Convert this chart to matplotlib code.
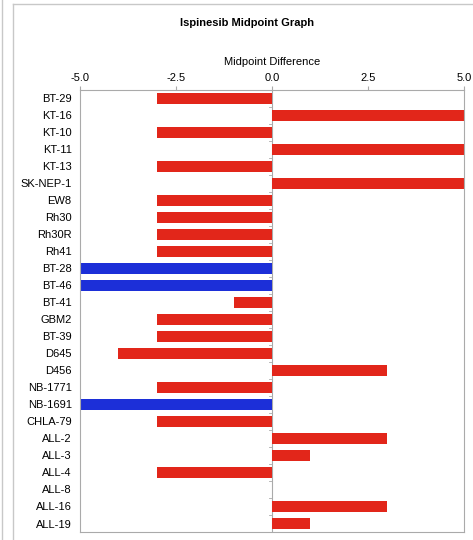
import numpy as np
import matplotlib
matplotlib.use('Agg')
import matplotlib.pyplot as plt
from matplotlib.lines import Line2D

plt.rcParams['font.family'] = ['Liberation Sans', 'DejaVu Sans']

# --- Daten ---
cell_lines = ['BT-29', 'KT-16', 'KT-10', 'KT-11', 'KT-13', 'SK-NEP-1', 'EW8', 'Rh30',
              'Rh30R', 'Rh41', 'BT-28', 'BT-46', 'BT-41', 'GBM2', 'BT-39', 'D645',
              'D456', 'NB-1771', 'NB-1691', 'CHLA-79', 'ALL-2', 'ALL-3', 'ALL-4',
              'ALL-8', 'ALL-16', 'ALL-19']
midpoint_diff = [-3, 5, -3, 5, -3, 5, -3, -3, -3, -3, -5, -5, -1, -3, -3, -4,
                 3, -3, -5, -3, 3, 1, -3, 0, 3, 1]
blue_lines = ['BT-28', 'BT-46', 'NB-1691']
x_ticks = [-5.0, -2.5, 0.0, 2.5, 5.0]

RED = '#e2261a'
BLUE = '#1c2fd8'
FRAME = '#c8c8c8'

fig = plt.figure(figsize=(4.73, 5.40), dpi=100)
ax = fig.add_axes([80 / 473, 1 - 532 / 540, 384 / 473, 442 / 540])

# Aeusserer Rahmen: nur oben und links sichtbar
top_y = 1 - 3.5 / 540
fig.add_artist(Line2D([12.5 / 473, 1.0], [top_y, top_y], transform=fig.transFigure,
                      color=FRAME, linewidth=1.0))
fig.add_artist(Line2D([12.5 / 473, 12.5 / 473], [0, top_y], transform=fig.transFigure,
                      color=FRAME, linewidth=1.0))
fig.add_artist(Line2D([1.5 / 473, 1.5 / 473], [0, 1], transform=fig.transFigure,
                      color=FRAME, linewidth=1.0))

y = np.arange(len(cell_lines))
colors = [BLUE if c in blue_lines else RED for c in cell_lines]
ax.barh(y, midpoint_diff, height=0.62, color=colors, zorder=2)

ax.set_xlim(-5, 5)
ax.set_ylim(len(cell_lines) - 0.5, -0.5)
ax.set_yticks(y)
ax.set_yticklabels(cell_lines, fontsize=8)
ax.tick_params(axis='y', length=0, pad=6)

ax.xaxis.tick_top()
ax.xaxis.set_label_position('top')
ax.set_xticks(x_ticks)
ax.set_xticklabels([f'{t:.1f}' for t in x_ticks], fontsize=8)
ax.tick_params(axis='x', length=3, color='#aaaaaa', pad=2)
ax.set_xlabel('Midpoint Difference', fontsize=8, labelpad=6)

# Nulllinie mit kleinen Strichen
ax.axvline(0, color='#aaaaaa', linewidth=0.8, zorder=1)
for yy in y[1:]:
    ax.plot([-0.08, 0], [yy - 0.5, yy - 0.5], color='#aaaaaa', linewidth=0.6, zorder=1)

for sp in ax.spines.values():
    sp.set_color('#aaaaaa')
    sp.set_linewidth(0.8)

fig.text(247 / 473, 1 - 23 / 540, 'Ispinesib Midpoint Graph', ha='center', va='center',
         fontsize=8, fontweight='bold')

fig.savefig('out.png', dpi=100)
